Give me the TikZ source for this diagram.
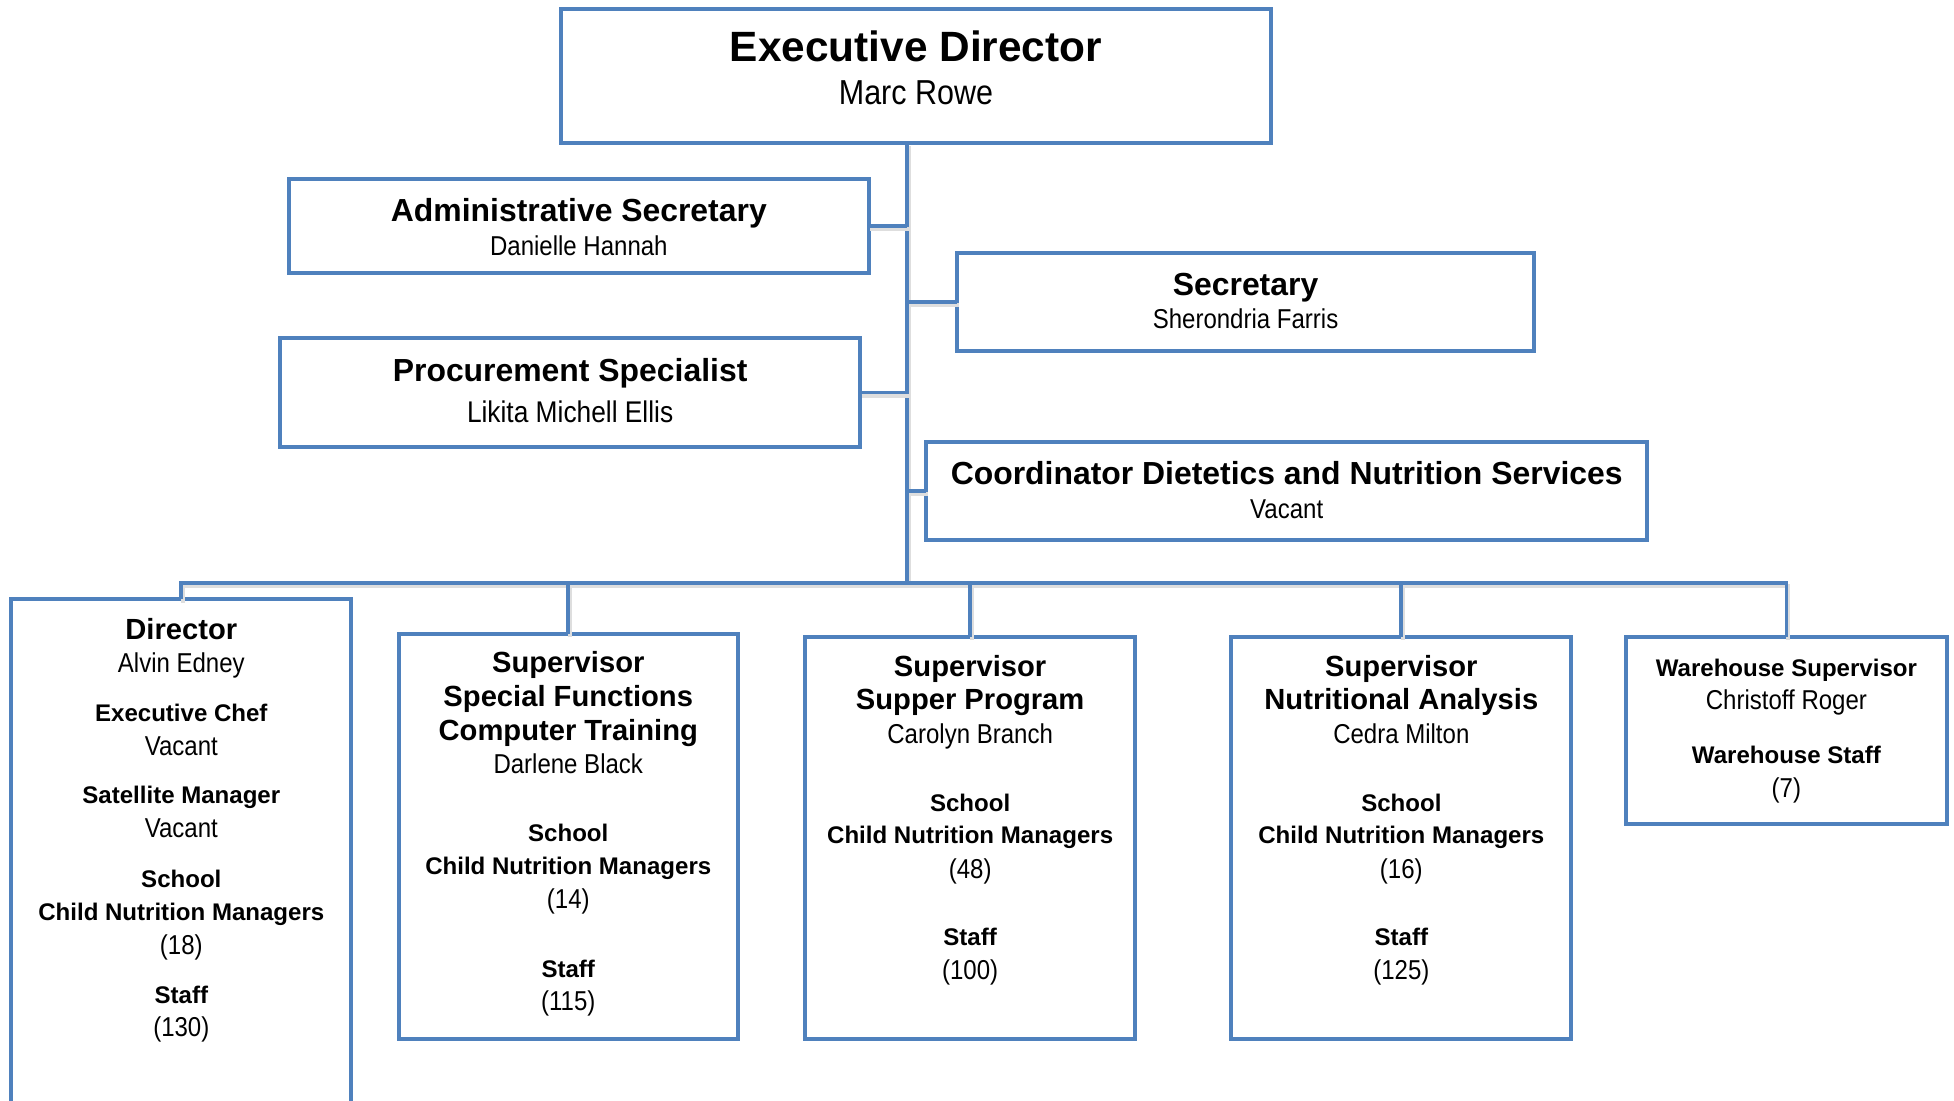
\documentclass[tikz,border=0pt]{standalone}
\usepackage{fontspec}
\setmainfont{Liberation Sans}
\newfontfamily\nmfont[FakeStretch=0.88]{Liberation Sans}
\definecolor{boxblue}{HTML}{4F81BD}
\newcommand\FExT{\fontsize{34}{40}\selectfont\bfseries}
\newcommand\FExN{\nmfont\fontsize{27.8}{32}\selectfont}
\newcommand\FTopT{\fontsize{25.6}{30}\selectfont\bfseries}
\newcommand\FTopN{\nmfont\fontsize{21.9}{26}\selectfont}
\newcommand\FTopNb{\nmfont\fontsize{24}{28}\selectfont}
\newcommand\FBT{\fontsize{23.4}{28}\selectfont\bfseries}
\newcommand\FBS{\fontsize{19.3}{24}\selectfont\bfseries}
\newcommand\FBN{\nmfont\fontsize{21.9}{26}\selectfont}
\newcommand\BoxText[3]{\foreach \yy/\tx [count=\k] in {#3} {\node[txt] (#1-\k) at (#2,\yy) {\tx};}}
\newcommand\Conn[1]{\draw[cshade,transform canvas={xshift=1.5pt,yshift=-2.5pt}] #1; \draw[conn] #1;}
\begin{document}
\begin{tikzpicture}[x=1pt,y=-1pt,
  box/.style={draw=boxblue, line width=3.2pt, fill=white, inner sep=0pt, outer sep=0pt},
  conn/.style={draw=boxblue, line width=3pt},
  cshade/.style={draw=black!13, line width=3pt},
  txt/.style={anchor=base, inner sep=0pt, outer sep=0pt}]
\useasboundingbox[fill=white] (0,0) rectangle (1568,883);

\coordinate (tk) at (728,468);
% boxes
\node[box, minimum width=570, minimum height=108] (exec) at (735,61) {};
\node[box, minimum width=465, minimum height=75] (admin) at (464.5,181.5) {};
\node[box, minimum width=463, minimum height=79] (sec) at (999.5,242.5) {};
\node[box, minimum width=465, minimum height=88] (proc) at (457.5,315) {};
\node[box, minimum width=579, minimum height=78] (coord) at (1032.5,394) {};
\node[box, minimum width=273, minimum height=411] (dir) at (145.5,686.5) {};
\node[box, minimum width=272, minimum height=325] (sf) at (456,671.5) {};
\node[box, minimum width=265, minimum height=323] (sup) at (778.5,672.5) {};
\node[box, minimum width=273, minimum height=323] (nut) at (1124.5,672.5) {};
\node[box, minimum width=257, minimum height=150] (wh) at (1433.5,586) {};

% connectors
\Conn{(exec.south -| tk) -- (tk)}
\Conn{(admin.east) -- (admin.east -| tk)}
\Conn{(sec.west) -- (sec.west -| tk)}
\Conn{(proc.east) -- (proc.east -| tk)}
\Conn{(coord.west) -- (coord.west -| tk)}
\Conn{(dir.north) |- (tk)}
\Conn{(wh.north) |- (tk)}
\Conn{(sf.north) -- (sf.north |- tk)}
\Conn{(sup.north) -- (sup.north |- tk)}
\Conn{(nut.north) -- (nut.north |- tk)}

% texts
\BoxText{exect}{735}{49.5/{\FExT Executive Director}, 84/{\FExN Marc Rowe}}
\BoxText{admint}{464.5}{178/{\FTopT Administrative Secretary}, 205/{\FTopN Danielle Hannah}}
\BoxText{sect}{999.5}{237/{\FTopT Secretary}, 264/{\FTopN Sherondria Farris}}
\BoxText{proct}{457.5}{306/{\FTopT Procurement Specialist}, 339/{\FTopNb Likita Michell Ellis}}
\BoxText{coordt}{1032.5}{389/{\FTopT Coordinator Dietetics and Nutrition Services}, 416/{\FTopN Vacant}}
\BoxText{dirt}{145.5}{513/{\FBT Director}, 540/{\FBN Alvin Edney}, 579/{\FBS Executive Chef}, 606/{\FBN Vacant}, 645/{\FBS Satellite Manager}, 672/{\FBN Vacant}, 712/{\FBS School}, 739/{\FBS Child Nutrition Managers}, 766/{\FBN (18)}, 805/{\FBS Staff}, 832/{\FBN (130)}}
\BoxText{sft}{456}{540/{\FBT Supervisor}, 567/{\FBT Special Functions}, 594/{\FBT Computer Training}, 621/{\FBN Darlene Black}, 675/{\FBS School}, 702/{\FBS Child Nutrition Managers}, 729/{\FBN (14)}, 784/{\FBS Staff}, 811/{\FBN (115)}}
\BoxText{supt}{778.5}{543/{\FBT Supervisor}, 569/{\FBT Supper Program}, 597/{\FBN Carolyn Branch}, 651/{\FBS School}, 677/{\FBS Child Nutrition Managers}, 705/{\FBN (48)}, 759/{\FBS Staff}, 786/{\FBN (100)}}
\BoxText{nutt}{1124.5}{543/{\FBT Supervisor}, 569/{\FBT Nutritional Analysis}, 597/{\FBN Cedra Milton}, 651/{\FBS School}, 677/{\FBS Child Nutrition Managers}, 705/{\FBN (16)}, 759/{\FBS Staff}, 786/{\FBN (125)}}
\BoxText{wht}{1433.5}{543/{\FBS Warehouse Supervisor}, 569/{\FBN Christoff Roger}, 613/{\FBS Warehouse Staff}, 640/{\FBN (7)}}
\end{tikzpicture}
\end{document}
